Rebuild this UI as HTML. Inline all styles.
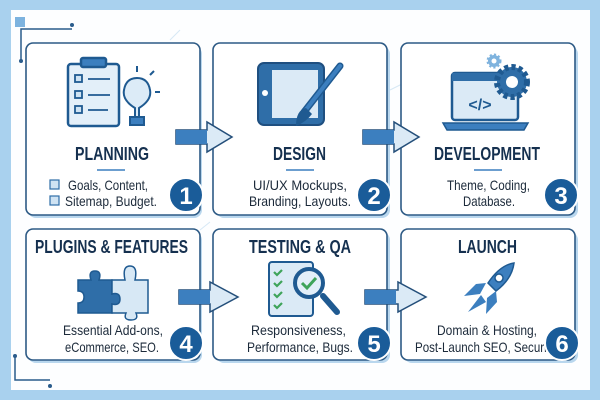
<!DOCTYPE html>
<html><head><style>
html,body{margin:0;padding:0;width:600px;height:400px;overflow:hidden;background:#a9d1ee}
svg{display:block}
text{font-family:"Liberation Sans",sans-serif}
.t{font-weight:bold;font-size:18px;fill:#15304f}
.s{font-size:14px;fill:#1c2a3a}
.n{font-family:"Liberation Sans",sans-serif;font-weight:bold;font-size:24px;fill:#fff}
</style></head><body>
<svg width="600" height="400" viewBox="0 0 600 400">
<rect x="11" y="10" width="579" height="380" fill="#fdfeff"/>
<g stroke="#d6e8f5" stroke-width="1" fill="none">
<line x1="170" y1="40" x2="180" y2="30"/><line x1="390" y1="90" x2="410" y2="80"/><line x1="200" y1="230" x2="210" y2="222"/>
</g>
<g stroke="#2a5c8c" stroke-width="1.5" fill="none"><path d="M21 62 V29 H72"/></g>
<rect x="15" y="17" width="10" height="10" fill="#7db3df"/>
<circle cx="72" cy="25" r="2" fill="#2a5c8c"/><circle cx="21" cy="61" r="2" fill="#2a5c8c"/>
<g stroke="#2a5c8c" stroke-width="1.5" fill="none"><path d="M15 355 V380 H50"/></g>
<circle cx="15" cy="356" r="2" fill="#2a5c8c"/><circle cx="50" cy="386" r="2" fill="#2a5c8c"/>
<!-- cards -->
<g fill="#fff" stroke="#2d5a85" stroke-width="1.6">
<rect x="28" y="46" width="174" height="172" rx="8" fill="#b9d7ee" stroke="none"/>
<rect x="216" y="46" width="174" height="172" rx="8" fill="#b9d7ee" stroke="none"/>
<rect x="404" y="46" width="174" height="172" rx="8" fill="#b9d7ee" stroke="none"/>
<rect x="28" y="232" width="174" height="131" rx="8" fill="#b9d7ee" stroke="none"/>
<rect x="216" y="232" width="174" height="131" rx="8" fill="#b9d7ee" stroke="none"/>
<rect x="404" y="232" width="174" height="131" rx="8" fill="#b9d7ee" stroke="none"/>
<rect x="26" y="43" width="174" height="172" rx="7"/>
<rect x="213" y="43" width="174" height="172" rx="7"/>
<rect x="401" y="43" width="174" height="172" rx="7"/>
<rect x="26" y="229" width="174" height="131" rx="7"/>
<rect x="213" y="229" width="174" height="131" rx="7"/>
<rect x="401" y="229" width="174" height="131" rx="7"/>
</g>
<!-- arrows -->
<g stroke="#244f7a" stroke-width="1.5">
<path d="M176 130 H207 V122 L232 137 L207 152 V144 H176 Z" fill="#dbeaf6"/>
<rect x="176" y="130" width="31" height="14" fill="#3c7fbf" stroke="none"/>
<path d="M363 130 H394 V122 L419 137 L394 152 V144 H363 Z" fill="#dbeaf6"/>
<rect x="363" y="130" width="31" height="14" fill="#3c7fbf" stroke="none"/>
<path d="M179 290 H210 V282 L238 297 L210 312 V304 H179 Z" fill="#dbeaf6"/>
<rect x="179" y="290" width="31" height="14" fill="#3c7fbf" stroke="none"/>
<path d="M365 290 H398 V282 L426 297 L398 312 V304 H365 Z" fill="#dbeaf6"/>
<rect x="365" y="290" width="31" height="14" fill="#3c7fbf" stroke="none"/>
</g>
<!-- titles -->
<text class="t" x="75" y="160" textLength="74" lengthAdjust="spacingAndGlyphs">PLANNING</text>
<text class="t" x="273" y="160" textLength="53" lengthAdjust="spacingAndGlyphs">DESIGN</text>
<text class="t" x="434" y="160" textLength="106" lengthAdjust="spacingAndGlyphs">DEVELOPMENT</text>
<text class="t" x="35" y="253" textLength="153" lengthAdjust="spacingAndGlyphs">PLUGINS &amp; FEATURES</text>
<text class="t" x="249" y="253" textLength="102" lengthAdjust="spacingAndGlyphs">TESTING &amp; QA</text>
<text class="t" x="458" y="253" textLength="59" lengthAdjust="spacingAndGlyphs">LAUNCH</text>
<g stroke="#3c7fbf" stroke-width="1.5"><line x1="97" y1="170" x2="125" y2="170"/><line x1="286" y1="170" x2="314" y2="170"/><line x1="474" y1="170" x2="502" y2="170"/></g>
<!-- body text -->
<text class="s" x="68" y="190" textLength="80" lengthAdjust="spacingAndGlyphs">Goals, Content,</text>
<text class="s" x="65" y="206" textLength="92" lengthAdjust="spacingAndGlyphs">Sitemap, Budget.</text>
<g fill="#cfe3f3" stroke="#2f6ea8" stroke-width="1.2"><rect x="50" y="180" width="9" height="9"/><rect x="50" y="196" width="9" height="9"/></g>
<text class="s" x="253" y="190" textLength="94" lengthAdjust="spacingAndGlyphs">UI/UX Mockups,</text>
<text class="s" x="249" y="206" textLength="102" lengthAdjust="spacingAndGlyphs">Branding, Layouts.</text>
<text class="s" x="447" y="190" textLength="83" lengthAdjust="spacingAndGlyphs">Theme, Coding,</text>
<text class="s" x="463" y="206" textLength="52" lengthAdjust="spacingAndGlyphs">Database.</text>
<text class="s" x="63" y="335" textLength="100" lengthAdjust="spacingAndGlyphs">Essential Add-ons,</text>
<text class="s" x="65" y="352" textLength="94" lengthAdjust="spacingAndGlyphs">eCommerce, SEO.</text>
<text class="s" x="251" y="335" textLength="95" lengthAdjust="spacingAndGlyphs">Responsiveness,</text>
<text class="s" x="247" y="352" textLength="106" lengthAdjust="spacingAndGlyphs">Performance, Bugs.</text>
<text class="s" x="437" y="335" textLength="100" lengthAdjust="spacingAndGlyphs">Domain &amp; Hosting,</text>
<text class="s" x="415" y="352" textLength="143" lengthAdjust="spacingAndGlyphs">Post-Launch SEO, Security.</text>
<!-- badges -->
<g fill="#1a5c99" stroke="#fff" stroke-width="2">
<circle cx="186" cy="195" r="17"/><circle cx="374" cy="195" r="17"/><circle cx="561" cy="195" r="17"/>
<circle cx="186" cy="343" r="17"/><circle cx="374" cy="343" r="17"/><circle cx="562" cy="343" r="17"/>
</g>
<text class="n" x="186" y="204" text-anchor="middle">1</text>
<text class="n" x="374" y="204" text-anchor="middle">2</text>
<text class="n" x="561" y="204" text-anchor="middle">3</text>
<text class="n" x="186" y="352" text-anchor="middle">4</text>
<text class="n" x="374" y="352" text-anchor="middle">5</text>
<text class="n" x="562" y="352" text-anchor="middle">6</text>
<!-- icon 1 clipboard + bulb -->
<g stroke="#1f5a91" stroke-width="2.5" fill="#e3eff9">
<rect x="68" y="64" width="51" height="62" rx="3"/>
<rect x="81" y="58" width="25" height="9" rx="2" fill="#3c7fbf"/>
</g>
<g stroke="#1f5a91" stroke-width="1.8" fill="#cfe3f3">
<rect x="75" y="75" width="7" height="7"/><rect x="75" y="91" width="7" height="7"/><rect x="75" y="106" width="7" height="7"/>
<line x1="88" y1="79" x2="110" y2="79"/><line x1="88" y1="95" x2="110" y2="95"/><line x1="88" y1="110" x2="108" y2="110"/>
</g>
<g stroke="#1f5a91" stroke-width="2" fill="#dcebf7">
<path d="M135 117 V108 Q122 100 124 90 Q126 78 137 78 Q148 78 150 90 Q152 100 139 108 V117 Z"/>
<rect x="130" y="117" width="14" height="8" fill="#3c7fbf"/>
<line x1="137" y1="66" x2="137" y2="72"/><line x1="150" y1="75" x2="154" y2="71"/><line x1="155" y1="92" x2="160" y2="92"/>
</g>
<!-- icon 2 tablet + brush -->
<rect x="258" y="63" width="66" height="62" rx="6" fill="#2f6ea8" stroke="#1f4f80" stroke-width="2"/>
<rect x="272" y="70" width="46" height="48" fill="#dbeaf6"/>
<circle cx="265" cy="93" r="3" fill="#fff"/>
<path d="M340 66 L304 112" stroke="#1f5a91" stroke-width="7" stroke-linecap="round"/>
<path d="M340 66 L304 112" stroke="#3c7fbf" stroke-width="4" stroke-linecap="round"/>
<path d="M306 108 Q296 110 296 126 Q306 122 312 114 Z" fill="#1f5a91"/>
<!-- icon 3 laptop + gears -->
<rect x="452" y="73" width="66" height="47" rx="3" fill="#dbeaf6" stroke="#1f5a91" stroke-width="2.5"/>
<rect x="452" y="73" width="66" height="8" fill="#2f6ea8"/>
<path d="M443 123 H528 L524 130 H447 Z" fill="#3c7fbf" stroke="#1f5a91" stroke-width="1.5"/>
<text x="480" y="110" font-family="Liberation Mono,monospace" font-size="16" font-weight="bold" fill="#1f5a91" text-anchor="middle">&lt;/&gt;</text>
<circle cx="512" cy="82" r="15" fill="#2f6ea8" stroke="#1f5a91" stroke-width="6" stroke-dasharray="4 3"/>
<circle cx="512" cy="82" r="6" fill="#fff"/>
<circle cx="494" cy="61" r="6" fill="#7fb3de" stroke="#7fb3de" stroke-width="3" stroke-dasharray="2 2"/>
<circle cx="494" cy="61" r="2.5" fill="#fff"/>
<!-- icon 4 puzzle -->
<path d="M78 280 H91 Q88 271 95 271 Q102 271 99 280 H112 V294 Q120 292 120 299 Q120 306 112 304 V313 H78 V303 Q84 303 84 297 Q84 291 78 291 Z" fill="#2f6ea8" stroke="#1f5a91" stroke-width="1.5"/>
<path d="M112 280 H125 Q122 266 130 266 Q138 266 135 280 H148 V313 H136 Q139 320 131 320 Q123 320 126 313 H112 V304 Q120 306 120 299 Q120 292 112 294 Z" fill="#d7e8f5" stroke="#1f5a91" stroke-width="1.5"/>
<!-- icon 5 checklist + magnifier -->
<rect x="269" y="262" width="44" height="54" rx="3" fill="#dbeaf6" stroke="#1f5a91" stroke-width="2"/>
<g stroke="#3fa45a" stroke-width="2.2" fill="none"><path d="M274 272 l3 3 l5 -5"/><path d="M274 283 l3 3 l5 -5"/><path d="M274 294 l3 3 l5 -5"/><path d="M274 305 l3 3 l5 -5"/></g>
<line x1="323" y1="296" x2="337" y2="312" stroke="#1f5a91" stroke-width="6" stroke-linecap="round"/>
<circle cx="309" cy="283" r="14" fill="#e3eff9" stroke="#1f5a91" stroke-width="4"/>
<path d="M302 283 l5 5 l9 -10" stroke="#3fa45a" stroke-width="3" fill="none"/>
<!-- icon 6 rocket -->
<path d="M514 263 Q500 265 488 283 L496 291 Q512 279 514 263 Z" fill="#3c7fbf" stroke="#1f5a91" stroke-width="1.5"/>
<path d="M486 283 L476 284 L464 296 L480 294 Z" fill="#3c7fbf"/>
<path d="M496 291 L497 302 L486 314 L487 298 Z" fill="#3c7fbf"/>
<circle cx="499" cy="278" r="4" fill="#fff" stroke="#1f5a91" stroke-width="1.5"/>
<path d="M481 295 L468 312 L486 302" fill="#3c7fbf"/>
</svg>
</body></html>
